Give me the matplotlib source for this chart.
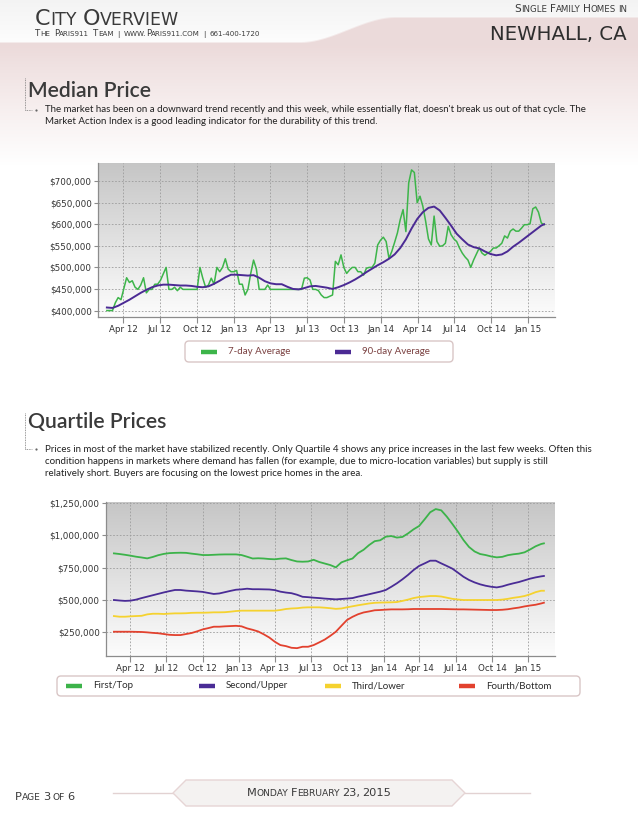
import numpy as np
import pandas as pd
import matplotlib
matplotlib.use("Agg")
import matplotlib.pyplot as plt
import matplotlib.dates as mdates
from matplotlib.patches import FancyBboxPatch, Polygon
from matplotlib.lines import Line2D
from matplotlib.ticker import FuncFormatter

# ---------------- data ----------------
start_date = "2012-02-20"

# weekly 7-day average median price (thousands of $)
median_7day = [
    400, 400, 400, 418, 430, 425, 450, 476, 465, 469,
    454, 449, 459, 476, 441, 449, 449, 461, 461, 470,
    485, 500, 449, 449, 454, 446, 454, 449, 449, 449,
    449, 449, 449, 500, 475, 454, 459, 475, 461, 500,
    490, 500, 520, 496, 490, 490, 493, 461, 461, 436,
    449, 486, 517, 496, 449, 449, 449, 459, 449, 449,
    449, 449, 449, 449, 449, 449, 449, 449, 449, 449,
    475, 476, 471, 449, 449, 446, 436, 430, 430, 433,
    436, 514, 506, 529, 500, 486, 494, 500, 500, 490,
    490, 482, 498, 500, 500, 510, 552, 563, 570, 560,
    521, 537, 558, 580, 611, 634, 583, 696, 726, 720,
    650, 665, 642, 607, 566, 552, 619, 560, 549, 550,
    556, 595, 576, 566, 560, 545, 533, 524, 517, 500,
    517, 531, 545, 533, 528, 533, 537, 545, 545, 550,
    556, 573, 568, 584, 589, 584, 584, 591, 599, 599,
    601, 636, 640, 628, 603, 599]

# bi-weekly samples (thousands of $)
median_90day = [
    407, 406, 411, 418, 425, 433, 441, 448, 454, 458,
    460, 460, 459, 458, 458, 457, 455, 454, 456, 462,
    469, 477, 483, 483, 482, 481, 482, 476, 468, 463,
    461, 461, 455, 450, 449, 452, 456, 457, 455, 453,
    450, 454, 459, 465, 472, 480, 489, 497, 505, 512,
    520, 530, 545, 565, 590, 612, 628, 638, 641, 632,
    615, 597, 578, 565, 553, 547, 544, 537, 531, 528,
    530, 537, 548, 557, 567, 577, 587, 597, 600]

q_first = [
    860, 855, 849, 842, 834, 828, 821, 832, 846, 856,
    862, 864, 865, 864, 858, 853, 847, 847, 849, 851,
    852, 852, 852, 847, 834, 820, 822, 820, 816, 814,
    819, 821, 808, 797, 795, 797, 810, 793, 781, 769,
    751, 790, 806, 820, 862, 888, 925, 955, 962, 990,
    995, 983, 988, 1015, 1047, 1073, 1125, 1180, 1205, 1195,
    1146, 1089, 1029, 964, 910, 875, 855, 847, 836, 829,
    833, 846, 853, 858, 868, 890, 915, 933, 938]

q_second = [
    497, 493, 490, 492, 500, 512, 523, 534, 545, 556,
    566, 575, 575, 570, 567, 564, 560, 552, 544, 548,
    558, 568, 577, 580, 585, 581, 581, 580, 579, 574,
    562, 555, 550, 538, 522, 519, 515, 512, 508, 505,
    502, 505, 508, 512, 523, 532, 542, 552, 562, 575,
    600, 627, 658, 692, 730, 762, 782, 803, 803, 782,
    762, 741, 710, 678, 653, 634, 619, 608, 600, 595,
    603, 616, 627, 637, 650, 663, 673, 681, 684]

q_third = [
    372, 367, 367, 370, 372, 374, 385, 390, 390, 388,
    391, 393, 393, 394, 397, 398, 398, 399, 401, 401,
    402, 406, 411, 414, 414, 414, 414, 414, 414, 414,
    419, 427, 431, 433, 438, 440, 440, 440, 437, 433,
    428, 431, 440, 448, 456, 463, 470, 475, 477, 478,
    479, 481, 490, 500, 512, 520, 524, 528, 528, 524,
    515, 506, 501, 497, 497, 497, 497, 497, 497, 497,
    500, 506, 514, 520, 528, 541, 558, 569, 569]

q_fourth = [
    250, 250, 250, 250, 249, 248, 245, 241, 238, 232,
    226, 224, 224, 232, 240, 253, 268, 278, 289, 289,
    292, 294, 296, 292, 276, 265, 252, 230, 205, 172,
    146, 138, 125, 122, 133, 133, 146, 167, 189, 218,
    250, 296, 341, 366, 386, 400, 408, 417, 419, 422,
    424, 424, 424, 425, 427, 427, 427, 427, 427, 427,
    426, 425, 424, 424, 423, 422, 421, 420, 419, 419,
    421, 425, 432, 438, 447, 454, 460, 470, 476]

tick_dates = ["2012-04-01", "2012-07-01", "2012-10-01", "2013-01-01",
              "2013-04-01", "2013-07-01", "2013-10-01", "2014-01-01",
              "2014-04-01", "2014-07-01", "2014-10-01", "2015-01-01"]
tick_labels = ["Apr 12", "Jul 12", "Oct 12", "Jan 13", "Apr 13", "Jul 13",
               "Oct 13", "Jan 14", "Apr 14", "Jul 14", "Oct 14", "Jan 15"]
median_yticks = [400000, 450000, 500000, 550000, 600000, 650000, 700000]
quartile_yticks = [250000, 500000, 750000, 1000000, 1250000]

median_names = ["7-day Average", "90-day Average"]
quartile_names = ["First/Top", "Second/Upper", "Third/Lower", "Fourth/Bottom"]

median_text = ("The market has been on a downward trend recently and this week, while essentially flat, doesn't break us out of that cycle. The\n"
               "Market Action Index is a good leading indicator for the durability of this trend.")
quartile_text = ("Prices in most of the market have stabilized recently. Only Quartile 4 shows any price increases in the last few weeks. Often this\n"
                 "condition happens in markets where demand has fallen (for example, due to micro-location variables) but supply is still\n"
                 "relatively short. Buyers are focusing on the lowest price homes in the area.")

# ---------------- derived ----------------
weekly_dates = pd.date_range(start_date, periods=len(median_7day), freq="7D")
smooth_idx = list(range(0, len(weekly_dates) - 1, 2)) + [len(weekly_dates) - 1]
smooth_dates = weekly_dates[smooth_idx]
xw = mdates.date2num(weekly_dates.to_pydatetime())
xs = mdates.date2num(smooth_dates.to_pydatetime())
xt = mdates.date2num(pd.to_datetime(tick_dates).to_pydatetime())
k = 1000.0

W, H = 638, 826
fig = plt.figure(figsize=(W / 100, H / 100), dpi=100)
plt.rcParams["font.family"] = ["DejaVu Sans"]

# ---------------- page background ----------------
bg = fig.add_axes([0, 0, 1, 1], zorder=-10)
bg.set_xlim(0, W)
bg.set_ylim(H, 0)
bg.axis("off")
yy, xx = np.mgrid[0:H, 0:W].astype(float)
t = np.clip((xx - 300) / 95.0, 0, 1)
s = t * t * (3 - 2 * t)
yb = 42 - 25 * s
pink = np.array([0.925, 0.855, 0.855])
white = np.array([1.0, 1.0, 1.0])
f = np.clip((yy - 45) / 120.0, 0, 1) ** 0.9
below = pink[None, None, :] * (1 - f[..., None]) + white[None, None, :] * f[..., None]
band_v = 0.955 + 0.035 * np.clip(yy / 40.0, 0, 1)
band = np.repeat(band_v[..., None], 3, axis=2)
edge = np.clip((yy - yb) / 2.0 + 0.5, 0, 1)[..., None]
img = band * (1 - edge) + below * edge
bg.imshow(img, extent=(0, W, H, 0), aspect="auto", interpolation="bilinear", zorder=0)


def fig_text(x, y, s, **kw):
    return fig.text(x / W, 1 - y / H, s, **kw)


def smallcaps(x, y, s, big, small, color="#3a3a3a", ha="left", gap=0.2,
              family="DejaVu Sans", digits_big=True, space=0.24):
    renderer = fig.canvas.get_renderer()
    runs = []
    for ch in s:
        if ch == " ":
            kind, sz, c = "space", small, " "
        elif ch.islower():
            kind, sz, c = "small", small, ch.upper()
        elif ch.isupper() or (ch.isdigit() and digits_big):
            kind, sz, c = "big", big, ch
        elif not ch.isalnum() and runs and runs[-1][2] != "space":
            kind, sz, c = runs[-1][2], runs[-1][1], ch
        else:
            kind, sz, c = "small", small, ch
        if runs and runs[-1][2] == kind:
            runs[-1][0] += c
        else:
            runs.append([c, sz, kind])
    widths = []
    for txt, sz, kind in runs:
        if kind == "space":
            widths.append(len(txt) * space * sz * 100 / 72)
        else:
            tt = fig.text(0, 0, txt, fontsize=sz, family=family)
            widths.append(tt.get_window_extent(renderer).width)
            tt.remove()
    gaps = []
    for i in range(len(runs) - 1):
        if runs[i][2] == "space" or runs[i + 1][2] == "space":
            gaps.append(0.0)
        else:
            gaps.append(gap)
    gaps.append(0.0)
    total = sum(widths) + sum(gaps)
    x0 = {"left": x, "right": x - total, "center": x - total / 2}[ha]
    for (txt, sz, kind), w, g in zip(runs, widths, gaps):
        if kind != "space":
            fig_text(x0, y, txt, fontsize=sz, family=family, color=color,
                     va="baseline", ha="left")
        x0 += w + g


# ---------------- header ----------------
smallcaps(35, 25, "City Overview", 16.0, 12.5, space=0.3)
smallcaps(35, 36, "The Paris911 Team | www.Paris911.com | 661-400-1720", 6.2, 5.1,
          digits_big=False, space=0.5)
smallcaps(627, 12, "Single Family Homes in", 7.6, 6.2, ha="right")
fig_text(627, 40, "NEWHALL, CA", fontsize=14.2, color="#2e2e2e", ha="right", va="baseline")

# ---------------- section titles, brackets, texts ----------------
title_kw = dict(family=["Lato", "DejaVu Sans"], fontweight="semibold", fontsize=15.2,
                color="#3a3a3a", va="baseline")
body_kw = dict(family=["Lato", "DejaVu Sans"], fontsize=7.0, color="#222222",
               va="top", linespacing=1.38)

fig_text(28, 97, "Median Price", **title_kw)
fig_text(45, 105.0, median_text, **body_kw)
fig_text(28, 428, "Quartile Prices", **title_kw)
fig_text(45, 445.0, quartile_text, **body_kw)

for top, y in [(78, 110), (413, 449)]:
    bg.plot([25, 25], [top, y], color="#777777", lw=0.6, ls=(0, (1, 1)))
    bg.plot([25, 32], [y, y], color="#777777", lw=0.6, ls=(0, (1, 1)))
    bg.plot([35.5], [y], marker="o", ms=1.6, color="#666666", mew=0)


# ---------------- charts ----------------
def px_axes(l, t_, r, b):
    return fig.add_axes([l / W, 1 - b / H, (r - l) / W, (b - t_) / H])


def style_chart(ax, xlim, ylim, yticks):
    g = np.linspace(0.775, 0.99, 256)[:, None] * np.ones((1, 2))
    rgb = np.repeat(g[:, :, None], 3, axis=2)
    ax.imshow(rgb, extent=[0, 1, 0, 1], transform=ax.transAxes, aspect="auto",
              zorder=0.1, interpolation="bilinear")
    ax.set_xlim(*xlim)
    ax.set_ylim(*ylim)
    ax.set_xticks(xt, labels=tick_labels)
    ax.set_yticks(yticks)
    ax.yaxis.set_major_formatter(FuncFormatter(lambda v, p: "${:,.0f}".format(v)))
    for sp in ["top", "right"]:
        ax.spines[sp].set_visible(False)
    for sp in ["left", "bottom"]:
        ax.spines[sp].set_color("#8c8c8c")
        ax.spines[sp].set_linewidth(0.9)
    ax.tick_params(axis="both", direction="out", color="#8c8c8c", width=0.8,
                   labelsize=6.3, labelcolor="#333333")
    ax.tick_params(axis="x", length=4, pad=2)
    ax.tick_params(axis="y", length=3, pad=1.5)
    ax.grid(True, color="#9c9c9c", linestyle=(0, (2, 2)), linewidth=0.6)
    ax.set_axisbelow(True)


xlim_m = (mdates.date2num(pd.Timestamp("2012-01-29")), mdates.date2num(pd.Timestamp("2015-03-08")))
xlim_q = (mdates.date2num(pd.Timestamp("2012-01-31")), mdates.date2num(pd.Timestamp("2015-03-09")))

ax1 = px_axes(98, 163, 555, 317)
style_chart(ax1, xlim_m, (385000, 742000), median_yticks)
l7, = ax1.plot(xw, np.array(median_7day) * k, color="#3db54a", lw=1.1, label=median_names[0], zorder=3)
l90, = ax1.plot(xs, np.array(median_90day) * k, color="#4b2a94", lw=1.4, label=median_names[1], zorder=4)

ax2 = px_axes(106, 502, 555, 656)
style_chart(ax2, xlim_q, (61000, 1260000), quartile_yticks)
q_colors = ["#3cb34a", "#4a2c96", "#f5d22f", "#e2412e"]
q_lines = []
for vals, name, col in zip([q_first, q_second, q_third, q_fourth], quartile_names, q_colors):
    ln, = ax2.plot(xs, np.array(vals) * k, color=col, lw=1.3, label=name, zorder=3)
    q_lines.append(ln)


# ---------------- legends ----------------
def legend_box(x0, y0, x1, y1, entries, text_x, text_color, cy):
    bg.add_patch(FancyBboxPatch((x0, y0), x1 - x0, y1 - y0,
                                boxstyle="round,pad=0,rounding_size=4",
                                fc="white", ec="#d9c6c6", lw=1.0, zorder=2))
    for ln, tx in zip(entries, text_x):
        bg.add_line(Line2D([tx - 27, tx - 11], [cy, cy], color=ln.get_color(),
                           lw=3.2, solid_capstyle="butt", zorder=3))
        fig_text(tx, cy, ln.get_label(), family=["Lato", "DejaVu Sans"], fontsize=7,
                 color=text_color, va="center", ha="left")


legend_box(185, 341, 453, 362, [l7, l90], [228, 362], "#7a4040", 351.5)
legend_box(57, 676, 580, 696, q_lines, [93, 226, 352, 486], "#2a2a2a", 686)

# ---------------- footer ----------------
for xa, xb in [(113, 173), (465, 530)]:
    bg.plot([xa, xb], [793, 793], color="#e2d2d2", lw=1.0)
bg.add_patch(Polygon([(173, 793), (186, 780), (452, 780), (465, 793), (452, 806), (186, 806)],
                     closed=True, fc="#f4f2f1", ec="#e6d5d5", lw=1.0, zorder=2))
smallcaps(15, 800, "Page 3 of 6", 8.2, 6.6)
smallcaps(319, 796, "Monday February 23, 2015", 8.2, 6.6, ha="center")

fig.savefig("out.png", dpi=100)
